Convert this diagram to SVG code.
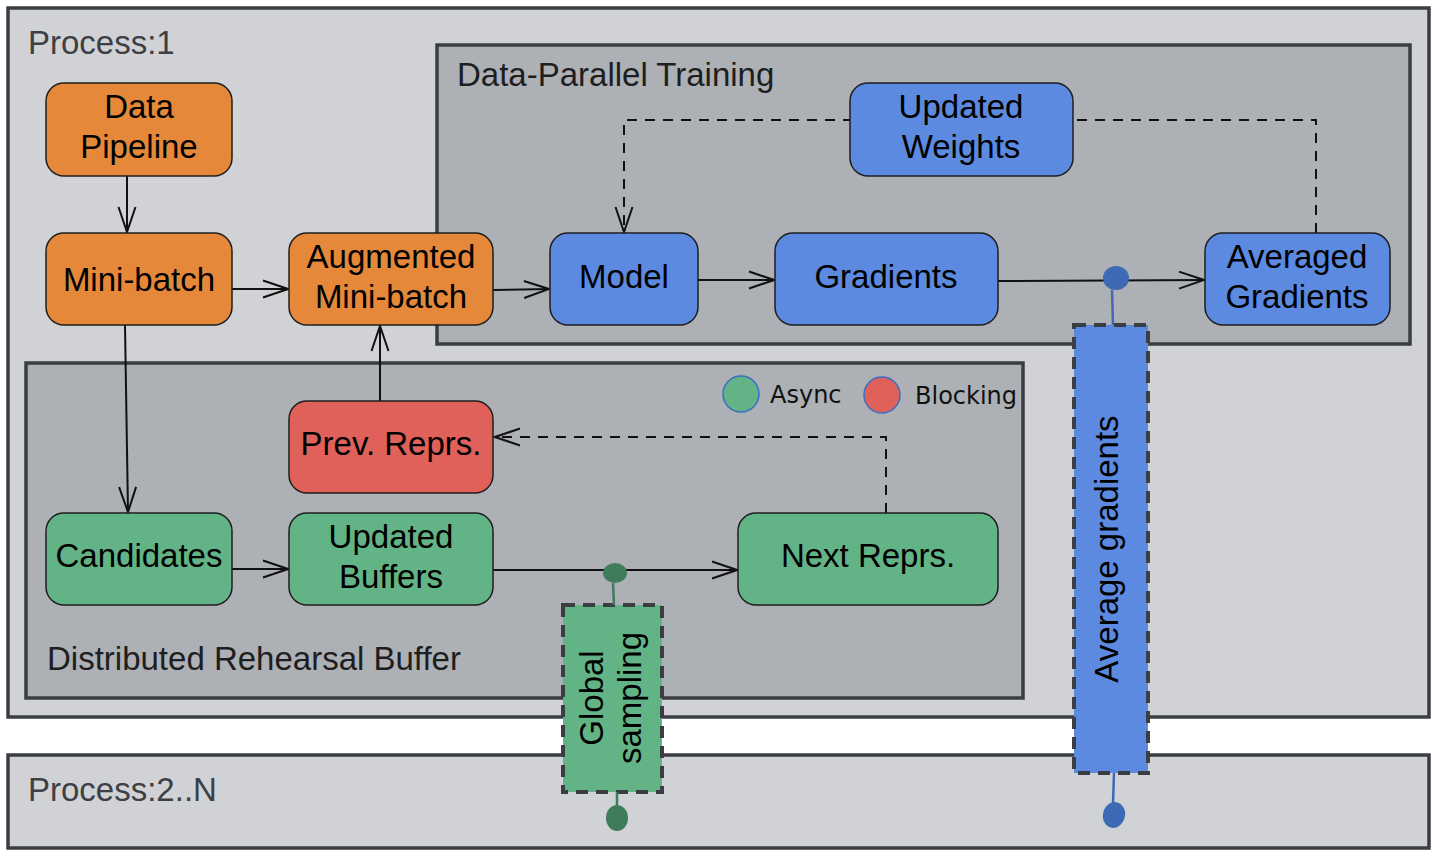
<svg xmlns="http://www.w3.org/2000/svg" width="1440" height="860" viewBox="0 0 1440 860">
<style>
.cont{stroke:#3a3d42;stroke-width:3.5}
.outer{fill:#d1d2d6}
.inner{fill:#adb0b4}
.title{font-family:"Liberation Sans",Arial,sans-serif;font-size:33px;fill:#3d3f44}
.node rect{stroke:#1e1e1e;stroke-width:1.5}
.lbl{font-family:"Liberation Sans",Arial,sans-serif;font-size:33px;fill:#000;text-anchor:middle}
.or{fill:#e5883a}
.bl{fill:#5b8ae0}
.rd{fill:#e0615a}
.gr{fill:#62b386}
.ln{fill:none;stroke:#111;stroke-width:2}
.dash{stroke-dasharray:10 8}
.box{stroke:#3a3d42;stroke-width:4;stroke-dasharray:12 8}
.hand{font-family:"DejaVu Sans",sans-serif;font-size:24px;fill:#111}
</style>
<defs>
<marker id="ah" markerUnits="userSpaceOnUse" viewBox="0 0 28 20" markerWidth="28" markerHeight="20" refX="26" refY="10" orient="auto">
<path d="M1,1.5 L26,10 L1,18.5" fill="none" stroke="#111" stroke-width="2"/>
</marker>
</defs>
<rect width="1440" height="860" fill="#fff"/>
<g id="process1">
<rect class="cont outer" x="8" y="8" width="1421" height="709"/>
<text class="title" x="28" y="54">Process:1</text>
</g>
<g id="process2">
<rect class="cont outer" x="8" y="755" width="1421" height="93"/>
<text class="title" x="28" y="801">Process:2..N</text>
</g>
<g id="dataParallel">
<rect class="cont inner" x="437" y="45" width="973" height="299"/>
<text class="title" x="457" y="86" style="fill:#1e1e1e">Data-Parallel Training</text>
</g>
<g id="rehearsal">
<rect class="cont inner" x="26" y="363" width="997" height="335"/>
<text class="title" x="47" y="670" style="fill:#1e1e1e">Distributed Rehearsal Buffer</text>
</g>
<g id="legend">
<circle cx="741" cy="394" r="18" fill="#62b386" stroke="#3a6fc4" stroke-width="1.5"/>
<text class="hand" x="770" y="403">Async</text>
<circle cx="882" cy="395" r="18" fill="#e0615a" stroke="#3a6fc4" stroke-width="1.5"/>
<text class="hand" x="915" y="404">Blocking</text>
</g>
<g id="connectors">
<path class="ln" d="M127,176 V232" marker-end="url(#ah)"/>
<path class="ln" d="M232,289 H288" marker-end="url(#ah)"/>
<path class="ln" d="M493,290 L549,289" marker-end="url(#ah)"/>
<path class="ln" d="M698,280 H774" marker-end="url(#ah)"/>
<path class="ln" d="M998,281 L1204,280" marker-end="url(#ah)"/>
<path class="ln dash" d="M1316,233 V120 H624 V232" marker-end="url(#ah)"/>
<path class="ln" d="M125,325 L128,512" marker-end="url(#ah)"/>
<path class="ln" d="M232,569 H288" marker-end="url(#ah)"/>
<path class="ln" d="M493,570 H737" marker-end="url(#ah)"/>
<path class="ln dash" d="M886,513 V437 H495" marker-end="url(#ah)"/>
<path class="ln" d="M380,401 V326" marker-end="url(#ah)"/>
</g>
<g id="dataPipeline" class="node"><rect class="or" x="46" y="83" width="186" height="93" rx="18"/><text class="lbl" x="139" y="118">Data</text><text class="lbl" x="139" y="158">Pipeline</text></g>
<g id="miniBatch" class="node"><rect class="or" x="46" y="233" width="186" height="92" rx="18"/><text class="lbl" x="139" y="291">Mini-batch</text></g>
<g id="augmented" class="node"><rect class="or" x="289" y="233" width="204" height="92" rx="18"/><text class="lbl" x="391" y="268">Augmented</text><text class="lbl" x="391" y="308">Mini-batch</text></g>
<g id="model" class="node"><rect class="bl" x="550" y="233" width="148" height="92" rx="18"/><text class="lbl" x="624" y="288">Model</text></g>
<g id="gradients" class="node"><rect class="bl" x="775" y="233" width="223" height="92" rx="18"/><text class="lbl" x="886" y="288">Gradients</text></g>
<g id="averaged" class="node"><rect class="bl" x="1205" y="233" width="185" height="92" rx="18"/><text class="lbl" x="1297" y="268">Averaged</text><text class="lbl" x="1297" y="308">Gradients</text></g>
<g id="updatedWeights" class="node"><rect class="bl" x="850" y="83" width="223" height="93" rx="18"/><text class="lbl" x="961" y="118">Updated</text><text class="lbl" x="961" y="158">Weights</text></g>
<g id="prevReprs" class="node"><rect class="rd" x="289" y="401" width="204" height="92" rx="18"/><text class="lbl" x="391" y="455">Prev. Reprs.</text></g>
<g id="candidates" class="node"><rect class="gr" x="46" y="513" width="186" height="92" rx="18"/><text class="lbl" x="139" y="567">Candidates</text></g>
<g id="updatedBuffers" class="node"><rect class="gr" x="289" y="513" width="204" height="92" rx="18"/><text class="lbl" x="391" y="548">Updated</text><text class="lbl" x="391" y="588">Buffers</text></g>
<g id="nextReprs" class="node"><rect class="gr" x="738" y="513" width="260" height="92" rx="18"/><text class="lbl" x="868" y="567">Next Reprs.</text></g>
<g id="globalSampling">
<rect class="box gr" x="563" y="605" width="99" height="187"/>
<g transform="translate(0,698) rotate(-90)">
<text class="lbl" x="0" y="603">Global</text>
<text class="lbl" x="0" y="641">sampling</text>
</g>
<path d="M613,583 L614,605 M617,792 L617,806" stroke="#3f7c5c" stroke-width="2.5" fill="none"/>
<ellipse cx="615" cy="573" rx="12" ry="10" fill="#3f7c5c"/>
<ellipse cx="617" cy="818" rx="11" ry="13" fill="#3f7c5c"/>
</g>
<g id="averageGradients">
<rect class="box bl" x="1074" y="325" width="74" height="448"/>
<g transform="translate(1118,549) rotate(-90)">
<text class="lbl" x="0" y="0">Average gradients</text>
</g>
<path d="M1112,290 L1113,325 M1114,773 L1113,803" stroke="#3e6ab5" stroke-width="2.5" fill="none"/>
<ellipse cx="1116" cy="278" rx="13" ry="12" fill="#3e6ab5"/>
<ellipse cx="1114" cy="815" rx="11" ry="13" fill="#3e6ab5" transform="rotate(15 1114 815)"/>
</g>
</svg>
